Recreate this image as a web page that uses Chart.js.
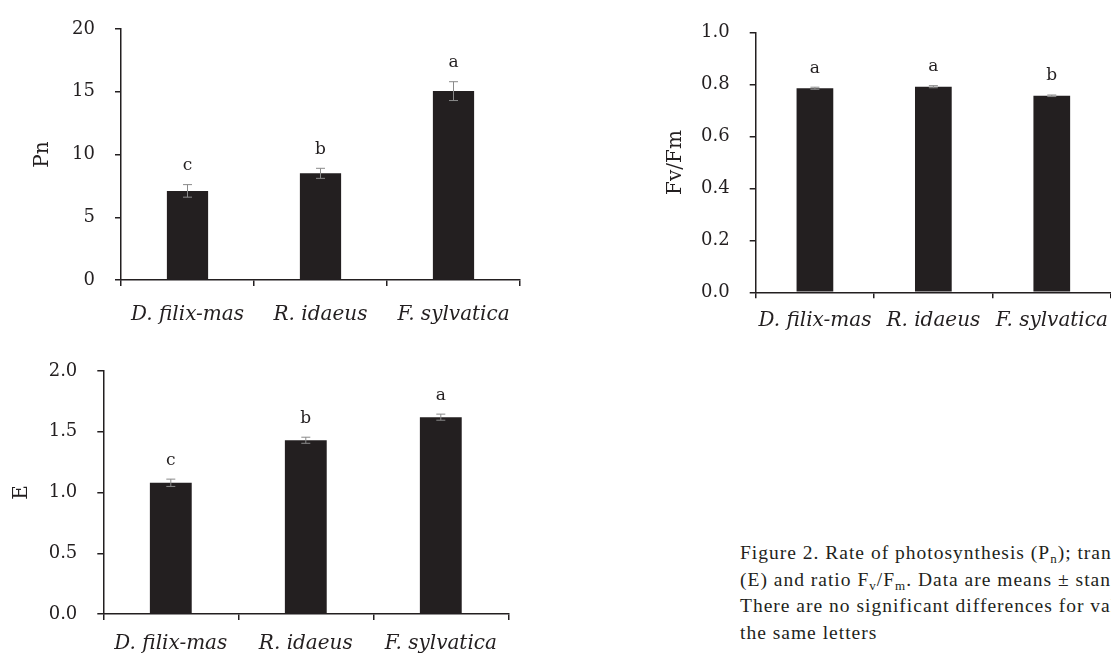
<!DOCTYPE html>
<html>
<head>
<meta charset="utf-8">
<script src="https://cdn.jsdelivr.net/npm/chart.js@4.4.1/dist/chart.umd.min.js"></script>
<style>
  html, body { margin: 0; padding: 0; background: #fff; }
  body { width: 1111px; height: 657px; position: relative; overflow: hidden; }
  canvas { position: absolute; }
  #caption {
    position: absolute; left: 740px; top: 540px; width: 760px;
    font-family: 'Liberation Serif', serif; font-size: 19.5px; letter-spacing: 1px;
    line-height: 26.7px; color: #231f20; white-space: nowrap;
  }
  #caption sub { font-size: 13px; vertical-align: -4px; line-height: 0; }
</style>
</head>
<body>
<canvas id="pnChart" width="540" height="340" style="left:0;top:0"></canvas>
<canvas id="fvChart" width="471" height="340" style="left:640px;top:0"></canvas>
<canvas id="eChart" width="540" height="317" style="left:0;top:340px"></canvas>
<div id="caption">
  Figure 2. Rate of photosynthesis (P<sub>n</sub>); transpiration rate<br>
  (E) and ratio F<sub>v</sub>/F<sub>m</sub>. Data are means ± standard error.<br>
  There are no significant differences for values with<br>
  the same letters
</div>
<script>
// data
const species = ['D. filix-mas', 'R. idaeus', 'F. sylvatica'];

const pnValues = [7.1, 8.5, 15.05];
const pnErrors = [0.5, 0.4, 0.75];
const pnLetters = ['c', 'b', 'a'];

const fvValues = [0.786, 0.792, 0.757];
const fvErrors = [0.004, 0.004, 0.003];
const fvLetters = ['a', 'a', 'b'];

const eValues = [1.08, 1.43, 1.62];
const eErrors = [0.03, 0.025, 0.025];
const eLetters = ['c', 'b', 'a'];

const INK = '#231f20';
Chart.defaults.font.family = "'DejaVu Serif', serif";
Chart.defaults.color = INK;

// error bars + significance letters, drawn on top of the bars
const errorBarPlugin = {
    id: 'errorBars',
    afterDatasetsDraw(chart) {
        const ctx = chart.ctx;
        const yScale = chart.scales.y;
        const ds = chart.data.datasets[0];
        const meta = chart.getDatasetMeta(0);
        ctx.save();
        meta.data.forEach((bar, i) => {
            const v = ds.data[i];
            const e = ds.errors[i];
            const top = yScale.getPixelForValue(v + e);
            const bot = yScale.getPixelForValue(v - e);
            ctx.strokeStyle = '#8a8a8a';
            ctx.lineWidth = 1;
            ctx.beginPath();
            ctx.moveTo(bar.x, top); ctx.lineTo(bar.x, bot);
            ctx.moveTo(bar.x - 4.5, top); ctx.lineTo(bar.x + 4.5, top);
            ctx.moveTo(bar.x - 4.5, bot); ctx.lineTo(bar.x + 4.5, bot);
            ctx.stroke();

            ctx.fillStyle = INK;
            ctx.font = "17px 'DejaVu Serif', serif";
            ctx.textAlign = 'center';
            ctx.textBaseline = 'middle';
            ctx.fillText(ds.letters[i], bar.x, top - 19);
        });
        ctx.restore();
    }
};

function renderBarChart(id, cfg) {
    const ctx = document.getElementById(id).getContext('2d');
    return new Chart(ctx, {
        type: 'bar',
        data: {
            labels: species,
            datasets: [{
                data: cfg.values,
                errors: cfg.errors,
                letters: cfg.letters,
                backgroundColor: INK,
                borderWidth: 0,
                categoryPercentage: 1,
                barPercentage: cfg.barPct
            }]
        },
        options: {
            responsive: false,
            animation: false,
            layout: { padding: { top: cfg.top, right: cfg.right, left: 0, bottom: 0 } },
            plugins: { legend: { display: false }, tooltip: { enabled: false } },
            scales: {
                x: {
                    grid: {
                        offset: true, drawOnChartArea: false, drawTicks: true,
                        tickLength: 6, color: INK, lineWidth: 1.5
                    },
                    border: { color: INK, width: 1.5 },
                    ticks: {
                        padding: cfg.xPad, maxRotation: 0, autoSkip: false,
                        font: { size: 20, style: 'italic' }
                    },
                    afterFit(scale) {
                        scale.height = cfg.xHeight;
                        scale.paddingLeft = 0; scale.paddingRight = 0;
                    }
                },
                y: {
                    min: 0, max: cfg.max,
                    grid: {
                        drawOnChartArea: false, drawTicks: true,
                        tickLength: 6, color: INK, lineWidth: 1.5
                    },
                    border: { color: INK, width: 1.5 },
                    ticks: {
                        stepSize: cfg.step, padding: cfg.yPad,
                        font: { size: 18 },
                        callback: v => cfg.decimals ? v.toFixed(cfg.decimals) : v
                    },
                    title: {
                        display: true, text: cfg.title,
                        font: { size: 20 },
                        padding: { top: cfg.titlePad, bottom: 0 }
                    },
                    afterFit(scale) {
                        scale.width = cfg.yWidth;
                        scale.paddingTop = 0; scale.paddingBottom = 0;
                    }
                }
            }
        },
        plugins: [errorBarPlugin]
    });
}

renderBarChart('pnChart', {
    values: pnValues, errors: pnErrors, letters: pnLetters,
    title: 'Pn', max: 20, step: 5, decimals: 0,
    top: 29, right: 20, yWidth: 121, xHeight: 60,
    xPad: 17, yPad: 20, titlePad: 31, barPct: 0.31
});

renderBarChart('fvChart', {
    values: fvValues, errors: fvErrors, letters: fvLetters,
    title: 'Fv/Fm', max: 1, step: 0.2, decimals: 1,
    top: 32.7, right: 0, yWidth: 115.7, xHeight: 47.7,
    xPad: 10, yPad: 20, titlePad: 24, barPct: 0.31
});

renderBarChart('eChart', {
    values: eValues, errors: eErrors, letters: eLetters,
    title: 'E', max: 2, step: 0.5, decimals: 1,
    top: 31, right: 31.7, yWidth: 103.3, xHeight: 43,
    xPad: 12, yPad: 20, titlePad: 10, barPct: 0.31
});
</script>
</body>
</html>
